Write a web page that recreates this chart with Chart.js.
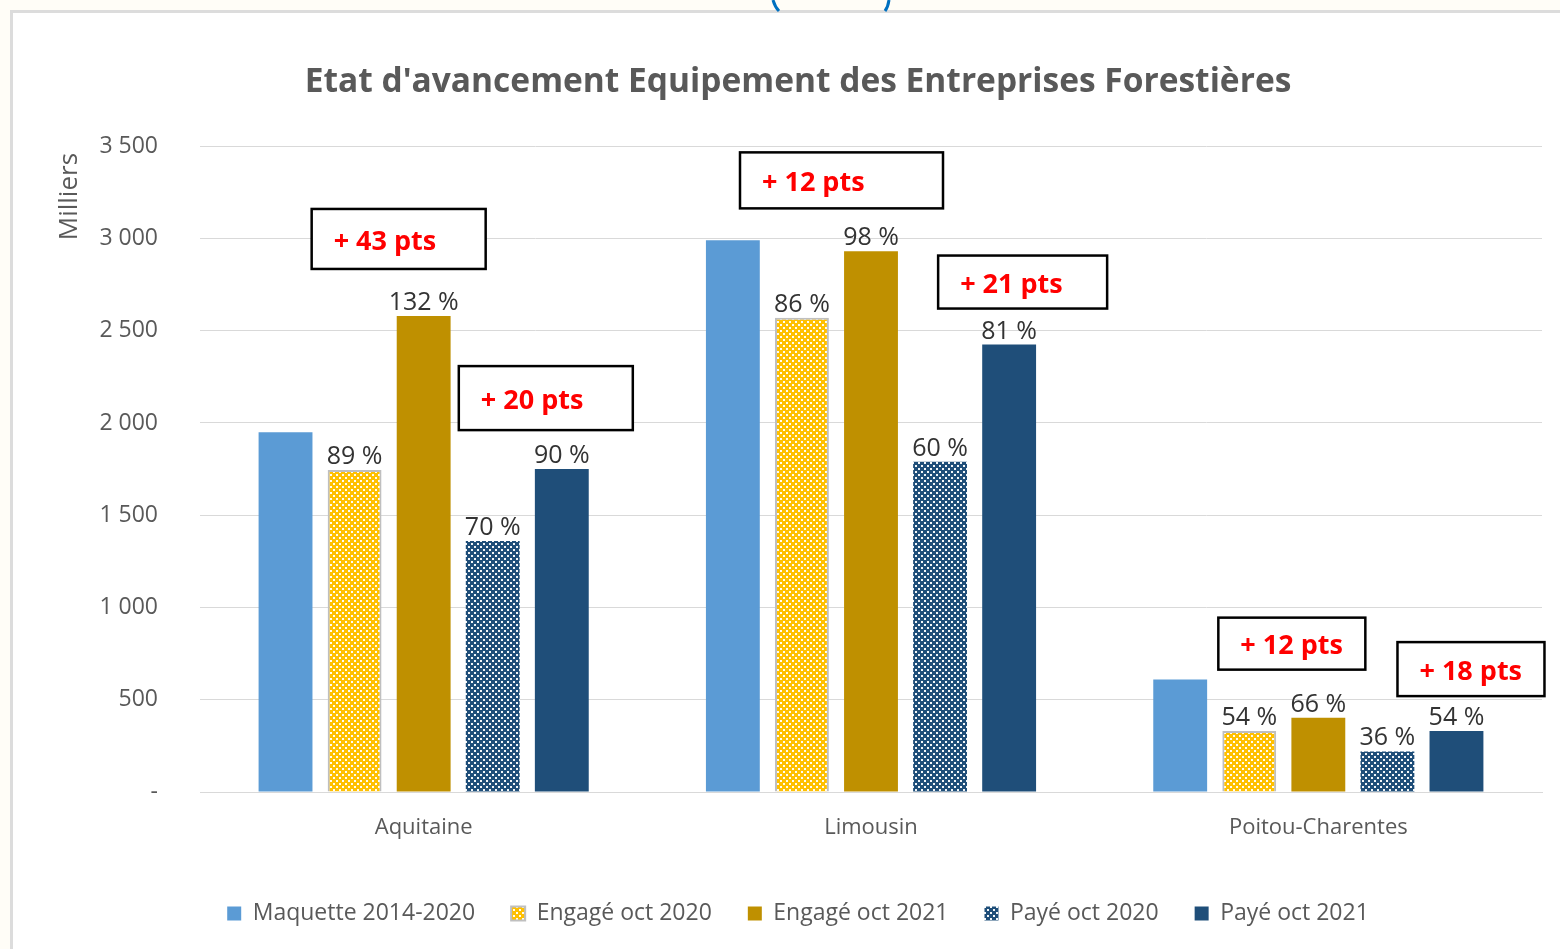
<!DOCTYPE html>
<html><head><meta charset="utf-8">
<script src="https://cdn.jsdelivr.net/npm/chart.js@4"></script>
<style>
html,body{margin:0;padding:0;background:#FFFDF7;width:1560px;height:949px;overflow:hidden;}
#frame{position:absolute;left:10px;top:10px;width:1560px;height:949px;background:#fff;border-left:3px solid #DCDCDC;border-top:3px solid #DCDCDC;}
#deco{position:absolute;left:0;top:0;}
#wrap{position:absolute;left:0;top:0;width:1560px;height:949px;}
</style></head>
<body>
<div id="frame"></div>
<svg id="deco" width="1560" height="14"><path d="M773 0 Q775 7 779 11" stroke="#0070C0" stroke-width="3" fill="none"/><path d="M889 0 Q888 7 885 11" stroke="#0070C0" stroke-width="3" fill="none"/></svg>
<div id="wrap"><canvas id="c" width="1560" height="949"></canvas></div>
<script>
const categories = ['Aquitaine', 'Limousin', 'Poitou-Charentes'];
const seriesNames = ['Maquette 2014-2020', 'Engagé oct 2020', 'Engagé oct 2021', 'Payé oct 2020', 'Payé oct 2021'];
const maquette   = [1950, 2990, 610];
const engage2020 = [1745, 2570, 330];
const engage2021 = [2580, 2930, 403];
const paye2020   = [1360, 1790, 220];
const paye2021   = [1750, 2425, 330];
const chartTitle = "Etat d'avancement Equipement des Entreprises Forestières";
const yAxisTitle = 'Milliers';

function dotPattern(bg) {
  const c = document.createElement('canvas');
  c.width = 6; c.height = 6;
  const x = c.getContext('2d');
  x.fillStyle = bg; x.fillRect(0, 0, 6, 6);
  x.fillStyle = 'rgba(255,255,255,0.95)';
  x.fillRect(0, 0, 2, 2);
  x.fillRect(3, 3, 2, 2);
  return x.createPattern(c, 'repeat');
}
function fmt(v) { return v === 0 ? '-' : String(v).replace(/\B(?=(\d{3})+(?!\d))/g, ' '); }
function pct(v, i) { return Math.round(v / maquette[i] * 100); }

const FONT = "'Open Sans', sans-serif";
const GREY = '#595959';

const percentLabels = {
  id: 'percentLabels',
  afterDatasetsDraw(chart) {
    const ctx = chart.ctx;
    ctx.save();
    ctx.font = '25px ' + FONT;
    ctx.fillStyle = '#333333';
    ctx.textAlign = 'center';
    ctx.textBaseline = 'alphabetic';
    for (let d = 1; d < chart.data.datasets.length; d++) {
      const meta = chart.getDatasetMeta(d);
      meta.data.forEach((bar, i) => {
        const v = chart.data.datasets[d].data[i];
        ctx.fillText(pct(v, i) + ' %', bar.x, bar.y - 6);
      });
    }
    ctx.restore();
  }
};

const gainBoxes = [
  {cat: 0, from: 1, to: 2, dx: -112, dy: -47, w: 174, h: 60},
  {cat: 0, from: 3, to: 4, dx: -103, dy: -39, w: 174, h: 64},
  {cat: 1, from: 1, to: 2, dx: -131, dy: -43, w: 203, h: 56},
  {cat: 1, from: 3, to: 4, dx: -71,  dy: -36, w: 169, h: 53},
  {cat: 2, from: 1, to: 2, dx: -100, dy: -48, w: 147, h: 52},
  {cat: 2, from: 3, to: 4, dx: -59,  dy: -35, w: 147, h: 54}
];
const gainPlugin = {
  id: 'gainPlugin',
  afterDraw(chart) {
    const ctx = chart.ctx;
    const ds = chart.data.datasets;
    ctx.save();
    gainBoxes.forEach(b => {
      const bar = chart.getDatasetMeta(b.to).data[b.cat];
      const g = pct(ds[b.to].data[b.cat], b.cat) - pct(ds[b.from].data[b.cat], b.cat);
      const left = bar.x + b.dx, bottom = bar.y + b.dy, top = bottom - b.h;
      ctx.fillStyle = '#fff';
      ctx.fillRect(left, top, b.w, b.h);
      ctx.strokeStyle = '#000';
      ctx.lineWidth = 2.5;
      ctx.strokeRect(left, top, b.w, b.h);
      ctx.fillStyle = '#FF0000';
      ctx.font = 'bold 27px ' + FONT;
      ctx.textAlign = 'left';
      ctx.textBaseline = 'middle';
      ctx.fillText('+ ' + g + ' pts', left + 22, top + b.h / 2 + 3);
    });
    ctx.restore();
  }
};

function draw() {
  Chart.defaults.font.family = FONT;
  const yellowDots = dotPattern('#FFC000');
  const blueDots = dotPattern('#1F4E79');
  new Chart(document.getElementById('c'), {
    type: 'bar',
    data: {
      labels: categories,
      datasets: [
        {label: seriesNames[0], data: maquette,   backgroundColor: '#5B9BD5', borderWidth: 0},
        {label: seriesNames[1], data: engage2020, backgroundColor: yellowDots, borderColor: '#BFBFBF', borderWidth: 2},
        {label: seriesNames[2], data: engage2021, backgroundColor: '#BF9000', borderWidth: 0},
        {label: seriesNames[3], data: paye2020,   backgroundColor: blueDots, borderWidth: 0},
        {label: seriesNames[4], data: paye2021,   backgroundColor: '#1F4E79', borderWidth: 0}
      ]
    },
    options: {
      responsive: false,
      animation: false,
      devicePixelRatio: 1,
      layout: {padding: {left: 54, right: 18, top: 0, bottom: 14}},
      datasets: {bar: {categoryPercentage: 0.772, barPercentage: 0.78}},
      plugins: {
        tooltip: {enabled: false},
        title: {
          display: true, text: chartTitle, color: GREY,
          font: {family: FONT, size: 33.5, weight: 'bold'},
          padding: {top: 62, bottom: 44}
        },
        legend: {
          position: 'bottom',
          labels: {boxWidth: 14, boxHeight: 14, color: GREY, font: {family: FONT, size: 23}, padding: 36}
        }
      },
      scales: {
        x: {
          grid: {display: false, drawTicks: false},
          border: {color: '#D9D9D9'},
          ticks: {color: GREY, font: {family: FONT, size: 22}, padding: 23},
          afterFit(s) { s.height = 74; }
        },
        y: {
          min: 0, max: 3500,
          grid: {color: '#D9D9D9', drawTicks: false},
          border: {display: false},
          ticks: {stepSize: 500, color: GREY, font: {family: FONT, size: 23}, padding: 42, callback: v => fmt(v)},
          title: {display: true, text: yAxisTitle + ' ', align: 'end', color: GREY, font: {family: FONT, size: 26}, padding: {top: 0, bottom: 0}},
          afterFit(s) { s.width = 146; }
        }
      }
    },
    plugins: [percentLabels, gainPlugin]
  });
}
Promise.all([
  document.fonts.load('24px "Open Sans"'),
  document.fonts.load('bold 24px "Open Sans"')
]).then(draw, draw);
</script>
</body></html>
